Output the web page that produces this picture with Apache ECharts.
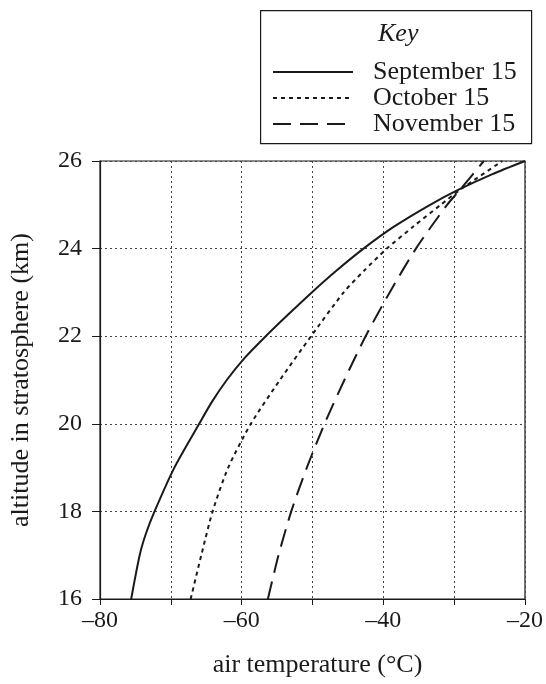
<!DOCTYPE html>
<html>
<head>
<meta charset="utf-8">
<script src="https://cdn.jsdelivr.net/npm/echarts@6/dist/echarts.min.js"></script>
<style>
html,body{margin:0;padding:0;background:#fff;}
#chart{width:546px;height:684px;}
</style>
</head>
<body>
<div id="chart"></div>
<script>
// ---- data ----
const seriesNames = ['September 15', 'October 15', 'November 15'];

const sepAlt  = [16, 17, 17.5, 18, 19, 20, 20.5, 21, 21.5, 22, 22.5, 23, 23.5, 24, 24.5, 25, 25.35, 25.7, 26];
const sepTemp = [-75.6, -74.4, -73.5, -72.3, -69.5, -66.0, -64.2, -62.1, -59.6, -56.6, -53.4, -50.1, -46.6, -42.8, -38.5, -33.4, -29.3, -24.6, -20.0];

const octAlt  = [16, 17, 18, 19, 20, 21, 22, 23, 23.5, 24, 24.5, 25, 25.35, 26];
const octTemp = [-67.2, -65.7, -64.1, -61.9, -58.7, -54.6, -50.2, -45.6, -42.7, -39.5, -35.8, -31.9, -29.1, -23.2];

const novAlt  = [16, 17, 18, 19, 20, 21, 22, 23, 24, 25, 25.3, 26];
const novTemp = [-56.3, -54.8, -53.0, -50.8, -48.3, -45.5, -42.5, -39.1, -35.4, -31.0, -29.4, -25.8];

const xTickValues = [-80, -60, -40, -20];
const xTickLabels = ['\u201380', '\u201360', '\u201340', '\u201320'];
const yTickValues = [16, 18, 20, 22, 24, 26];
const yTickLabels = ['16', '18', '20', '22', '24', '26'];

const xTitle = 'air temperature (\u00B0C)';
const yTitle = 'altitude in stratosphere (km)';
const keyTitle = 'Key';

// ---- build ----
function pairs(t, a) { return t.map((v, i) => [v, a[i]]); }

const FONT = '"Liberation Serif", "DejaVu Serif", serif';
const INK = '#1a1a1a';

const chart = echarts.init(document.getElementById('chart'), null, {renderer: 'canvas'});

chart.setOption({
  backgroundColor: '#ffffff',
  animation: false,
  textStyle: {fontFamily: FONT, color: INK},
  grid: {
    left: 100, right: 13, top: 161, bottom: 85,
    show: true, borderColor: INK, borderWidth: 1.2, backgroundColor: 'transparent'
  },
  graphic: [
    {
      type: 'rect', left: 260, top: 10, z: 0,
      shape: {width: 271, height: 133},
      style: {fill: '#fff', stroke: INK, lineWidth: 1.2}
    },
    {
      type: 'text', left: 378, top: 21, z: 10,
      style: {text: keyTitle, font: 'italic 26px ' + FONT, fill: INK}
    }
  ],
  legend: {
    orient: 'vertical',
    left: 267, top: 54,
    itemWidth: 80, itemHeight: 14, itemGap: 0,
    data: seriesNames,
    itemStyle: {opacity: 0},
    textStyle: {fontFamily: FONT, fontSize: 26, color: INK, lineHeight: 26, padding: [0, 0, 0, 15]},
    z: 20
  },
  xAxis: {
    type: 'value', min: -80, max: -20, interval: 10,
    name: xTitle, nameLocation: 'middle', nameGap: 53,
    nameTextStyle: {fontFamily: FONT, fontSize: 26, color: INK, padding: [0, 0, 0, 10]},
    axisLine: {show: true, lineStyle: {color: INK, width: 1.2}},
    axisTick: {show: true, inside: false, length: 6, lineStyle: {color: INK}},
    axisLabel: {
      margin: 10, fontFamily: FONT, fontSize: 24, color: INK,
      formatter: v => { const i = xTickValues.indexOf(v); return i >= 0 ? xTickLabels[i] : ''; }
    },
    splitLine: {show: true, lineStyle: {color: '#444', width: 1, type: [2, 3]}}
  },
  yAxis: {
    type: 'value', min: 16, max: 26, interval: 2,
    name: yTitle, nameLocation: 'middle', nameGap: 66, nameRotate: 90,
    nameTextStyle: {fontFamily: FONT, fontSize: 26, color: INK},
    axisLine: {show: true, lineStyle: {color: INK, width: 1.2}},
    axisTick: {show: true, inside: false, length: 8, lineStyle: {color: INK}},
    axisLabel: {
      margin: 18, fontFamily: FONT, fontSize: 24, color: INK,
      formatter: v => { const i = yTickValues.indexOf(v); return i >= 0 ? yTickLabels[i] : ''; }
    },
    splitLine: {show: true, lineStyle: {color: '#444', width: 1, type: [2, 3]}}
  },
  series: [
    {
      name: seriesNames[0], type: 'line', data: pairs(sepTemp, sepAlt),
      smooth: 0.25, symbol: 'none', clip: false,
      lineStyle: {color: INK, width: 2, type: 'solid'},
      itemStyle: {color: INK}
    },
    {
      name: seriesNames[1], type: 'line', data: pairs(octTemp, octAlt),
      smooth: 0.25, symbol: 'none', clip: false,
      lineStyle: {color: INK, width: 2, type: [4, 4]},
      itemStyle: {color: INK}
    },
    {
      name: seriesNames[2], type: 'line', data: pairs(novTemp, novAlt),
      smooth: 0.25, symbol: 'none', clip: false,
      lineStyle: {color: INK, width: 2, type: [18, 9]},
      itemStyle: {color: INK}
    }
  ]
});
</script>
</body>
</html>
